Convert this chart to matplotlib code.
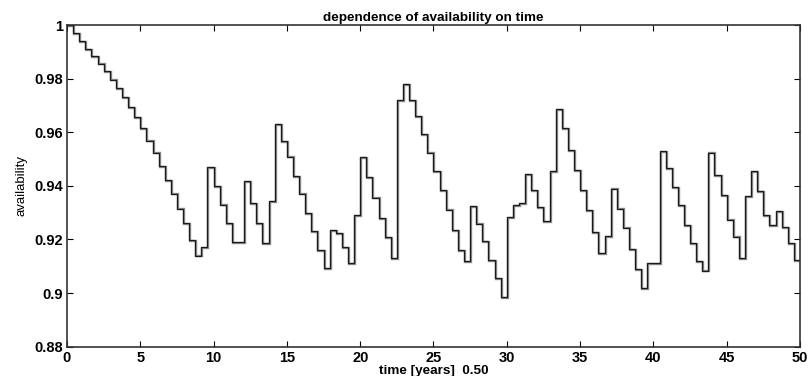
import numpy as np
import matplotlib
matplotlib.use("Agg")
import matplotlib.pyplot as plt
import matplotlib.transforms as mtransforms

plt.rcParams['font.family'] = ['Liberation Sans', 'DejaVu Sans']

# availability per interval, 120 intervals over 50 years
availability = [
    1.0, 0.9969, 0.9940, 0.9911, 0.9884, 0.9856, 0.9828, 0.9796, 0.9765, 0.9731,
    0.9694, 0.9656, 0.9615, 0.9569, 0.9524, 0.9474, 0.9421, 0.9371, 0.9315, 0.9261,
    0.9199, 0.9140, 0.9171, 0.9471, 0.9400, 0.9330, 0.9261, 0.9190, 0.9190, 0.9418,
    0.9336, 0.9261, 0.9186, 0.9344, 0.9630, 0.9568, 0.9509, 0.9436, 0.9371, 0.9299,
    0.9231, 0.9161, 0.9094, 0.9234, 0.9225, 0.9171, 0.9111, 0.9290, 0.9506, 0.9434,
    0.9356, 0.9281, 0.9209, 0.9131, 0.9719, 0.9781, 0.9721, 0.9659, 0.9593, 0.9524,
    0.9455, 0.9384, 0.9311, 0.9236, 0.9161, 0.9119, 0.9324, 0.9259, 0.9194, 0.9124,
    0.9056, 0.8986, 0.9284, 0.9328, 0.9336, 0.9444, 0.9384, 0.9321, 0.9268, 0.9455,
    0.9686, 0.9615, 0.9534, 0.9459, 0.9384, 0.9309, 0.9228, 0.9150, 0.9213, 0.9390,
    0.9315, 0.9244, 0.9165, 0.9090, 0.9019, 0.9111, 0.9111, 0.9531, 0.9465, 0.9396,
    0.9328, 0.9253, 0.9186, 0.9119, 0.9084, 0.9524, 0.9440, 0.9365, 0.9274, 0.9211,
    0.9131, 0.9361, 0.9456, 0.9381, 0.9290, 0.9253, 0.9305, 0.9246, 0.9186, 0.9124,
]
years_total = 50
xticks = [0, 5, 10, 15, 20, 25, 30, 35, 40, 45, 50]
yticks = [0.88, 0.9, 0.92, 0.94, 0.96, 0.98, 1.0]
ytick_labels = ['0.88', '0.9', '0.92', '0.94', '0.96', '0.98', '1']

edges = np.linspace(0, years_total, len(availability) + 1)

fig = plt.figure(figsize=(8.08, 3.76), dpi=100)
ax = fig.add_axes([0.0829, 0.078, 0.9072, 0.8555])

# second trace drawn in grey, shifted a hair
shift = mtransforms.offset_copy(ax.transData, fig=fig, x=1.0, y=-0.8, units='dots')
ax.stairs(availability, edges, baseline=None, color='#8c8c8c', lw=1.7, transform=shift)
ax.stairs(availability, edges, baseline=None, color='#1a1a1a', lw=0.9)

ax.set_xlim(0, 50)
ax.set_ylim(0.88, 1.0)
ax.set_xticks(xticks)
ax.set_xticklabels([str(t) for t in xticks], fontweight='bold', fontsize=10.5)
ax.set_yticks(yticks)
ax.set_yticklabels(ytick_labels, fontweight='bold', fontsize=10.5)
ax.tick_params(direction='in', top=True, right=True, length=4, width=0.8, pad=3)
for s in ax.spines.values():
    s.set_linewidth(1.2)
    s.set_color('#333333')

ax.set_title('dependence of availability on time', fontweight='bold', fontsize=9.7, pad=3)
ax.set_xlabel('time [years]  0.50', fontweight='bold', fontsize=9.7, labelpad=0)
ax.set_ylabel('availability', fontsize=9.5, labelpad=5)

fig.savefig('out.png', dpi=100)
